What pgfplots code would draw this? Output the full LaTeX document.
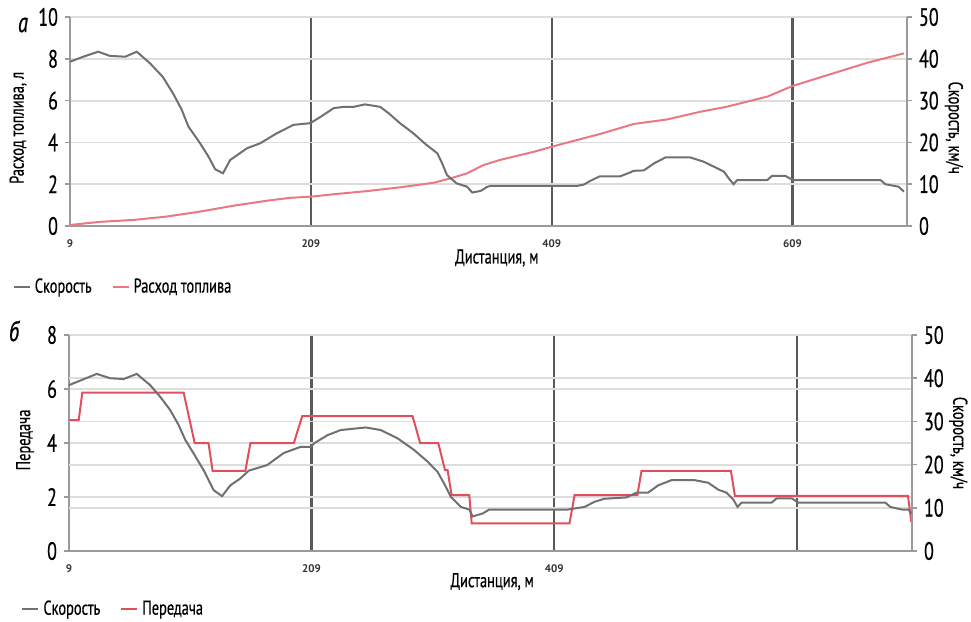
\documentclass[border=0pt]{standalone}
\usepackage{fontspec}
\setmainfont{PT Sans}[FakeStretch=0.72, UprightFeatures={FakeBold=0.5}, ItalicFeatures={FakeBold=0.8}]
\newfontfamily\widefont{PT Sans}
\usepackage{pgfplots}
\pgfplotsset{compat=1.18}
\definecolor{spd}{HTML}{707070}
\definecolor{fuel}{HTML}{EA7880}
\definecolor{gear}{HTML}{E0505C}
\definecolor{vgrid}{HTML}{5A5A5A}
\definecolor{hgrid}{HTML}{DDDDDD}
\definecolor{axl}{HTML}{9A9A9A}

\pgfplotstableread{
d v
9 39.3
20 40.5
32.5 41.7
42 40.7
55 40.5
64.4 41.7
75.5 38.9
86 35.7
94.6 31.7
101.8 27.8
107.3 23.8
117 19.8
124 16.6
129.5 13.6
136 12.6
142 15.8
156 18.6
167 19.8
180.8 22.2
194.6 24.2
208.5 24.6
217 26.1
228 28.2
236 28.5
244.5 28.5
254 29.1
266.6 28.5
273.5 27.0
283 24.6
294 22.2
305 19.4
314 17.4
318 15.0
322 12.2
330 10.2
338.7 9.4
343 8.0
350 8.4
355 9.3
358 9.6
430 9.6
435.6 9.9
441 10.8
449 11.9
466 11.9
474 12.8
477 13.2
485.5 13.3
494 15.0
503.5 16.4
524 16.4
535 15.4
543.6 14.2
552 13.0
556 11.4
560 10.0
563 11.0
588 11.0
592 12.0
603 12.0
609 11.0
682 11.0
686 10.0
697 9.4
701.5 8.2
}\speedA

\pgfplotstableread{
d f
9 0.05
34 0.2
61.6 0.29
89 0.45
117 0.69
144.7 0.97
172.5 1.21
192 1.35
208.5 1.40
228 1.52
255.6 1.67
283 1.85
311 2.07
325 2.28
338.7 2.52
352.5 2.92
366 3.16
394 3.55
409 3.79
421.7 3.99
449 4.4
477 4.88
505 5.1
532.6 5.47
554.7 5.71
588 6.19
609 6.70
643 7.31
671 7.81
701.5 8.26
}\fuelA

\pgfplotstableread{
d v
9 38.4
31.9 41.0
42.9 40.0
53.9 39.8
64.9 41.0
75.9 38.4
84.2 35.7
92.5 32.6
99.3 29.2
104.9 25.7
111.7 22.6
120 18.7
128.2 14.1
135.2 12.7
142 15.2
150.3 16.8
157.2 18.6
172.4 19.9
186.1 22.7
199.9 24.1
208.2 24.1
210.9 24.9
222 26.8
233 28.0
253.6 28.6
266 28.0
279.8 26.1
293.5 23.4
304.6 20.7
312.9 18.3
318.3 15.6
323.9 12.5
332.1 10.2
339 9.6
341.8 8.0
350.1 8.7
355.5 9.6
420.3 9.6
434 10.2
442.3 11.4
450.5 12.1
468.5 12.4
476.8 13.5
486.4 13.5
494.7 15.2
505.7 16.4
524.9 16.4
536 15.8
544.3 14.2
551.1 13.5
556.7 11.9
560.2 10.2
563.5 11.2
588.3 11.2
592.4 12.2
604.8 12.2
610.4 11.2
682 11.2
686.1 10.2
695.8 9.6
701.3 9.6
703.4 8.7
}\speedB

\pgfplotstableread{
d g
9 4.85
17 4.85
20 5.87
103.5 5.87
112.6 4.0
124 4.0
127.4 2.97
154.4 2.97
158.6 4.0
194.4 4.0
201.3 5.0
292.2 5.0
298.5 4.0
313.4 4.0
319 3.0
321.1 3.0
324.4 2.07
339 2.07
341 1.02
421.6 1.02
425.8 2.07
477.6 2.07
481 2.97
554.7 2.97
558 2.04
700.7 2.04
703.4 1.08
}\gearB

\tikzset{lab/.style={font=\fontsize{10}{11}\selectfont}}
\pgfplotsset{
  base/.style={
    scale only axis, xmin=9, xmax=704,
    axis line style={axl, line width=0.9pt, -},
    ytick style={axl, line width=0.8pt},
    xtick style={draw=none},
    major tick length=2.5pt,
    tick align=outside,
    /pgf/number format/assume math mode=true,
    yticklabel style={font=\fontsize{12.5}{13}\selectfont, text=black},
    xticklabel style={font=\fontsize{5.5}{6}\widefont\bfseries, text=black!80, yshift=-1pt},
    clip=false,
  },
  leg/.style={legend columns=-1, legend cell align=left,
    legend style={draw=none, fill=none, font=\fontsize{10}{11}\selectfont,
      /tikz/every even column/.append style={column sep=8pt}},
    legend image code/.code={\draw[##1] (0pt,0pt) -- (8pt,0pt);}},
}

\begin{document}
\begin{tikzpicture}
\useasboundingbox (0,0) rectangle (485.5pt,-311pt);

% ---------- panel a ----------
\begin{axis}[base, at={(35pt,-113pt)}, anchor=south west,
  width=418.5pt, height=104.5pt,
  ymin=0, ymax=10, ytick={0,2,...,10},
  axis x line*=bottom, axis y line*=left,
  xtick={209,409,609}, extra x ticks={9}, extra x tick style={grid=none},
  xmajorgrids, ymajorgrids,
  x grid style={vgrid, line width=1.1pt},
  y grid style={hgrid, line width=0.9pt},
  xlabel={Дистанция, м}, ylabel={Расход топлива, л},
  every axis x label/.style={at={(axis description cs:0.51,-0.153)}, anchor=center, lab},
  every axis y label/.style={at={(axis description cs:-0.062,0.47)}, rotate=90, anchor=center, lab},
]
\addplot[fuel, line width=1pt] table[x=d, y=f] {\fuelA};
\end{axis}
\begin{axis}[base, at={(35pt,-113pt)}, anchor=south west,
  width=418.5pt, height=104.5pt,
  ymin=0, ymax=50, ytick={0,10,...,50},
  axis y line*=right, axis x line=none,
  ylabel={Скорость, км/ч},
  every axis y label/.style={at={(axis description cs:1.056,0.47)}, rotate=-90, anchor=center, lab},
  leg, legend style={at={(axis description cs:-0.076,-0.292)}, anchor=west},
]
\addplot[spd, line width=1pt] table[x=d, y=v] {\speedA};
\addlegendentry{Скорость}
\addlegendimage{fuel, line width=1pt}
\addlegendentry{Расход топлива}
\end{axis}

% ---------- panel b ----------
\begin{axis}[base, at={(34.5pt,-275.5pt)}, anchor=south west,
  width=421.5pt, height=108pt,
  ymin=0, ymax=8, ytick={0,2,...,8},
  extra y ticks={1.6,3.2,4.8,6.4}, extra y tick labels={},
  extra y tick style={major tick length=0pt, ymajorgrids},
  axis x line*=bottom, axis y line*=left,
  xtick={209,409,609}, xticklabels={209,409,{}},
  extra x ticks={9}, extra x tick style={grid=none},
  xmajorgrids, ymajorgrids,
  x grid style={vgrid, line width=1.1pt},
  y grid style={hgrid, line width=0.9pt},
  xlabel={Дистанция, м}, ylabel={Передача},
  every axis x label/.style={at={(axis description cs:0.502,-0.142)}, anchor=center, lab},
  every axis y label/.style={at={(axis description cs:-0.052,0.514)}, rotate=90, anchor=center, lab},
]
\addplot[gear, line width=1pt] table[x=d, y=g] {\gearB};
\end{axis}
\begin{axis}[base, at={(34.5pt,-275.5pt)}, anchor=south west,
  width=421.5pt, height=108pt,
  ymin=0, ymax=50, ytick={0,10,...,50},
  axis y line*=right, axis x line=none,
  ylabel={Скорость, км/ч},
  every axis y label/.style={at={(axis description cs:1.055,0.50)}, rotate=-90, anchor=center, lab},
  leg, legend style={at={(axis description cs:-0.064,-0.269)}, anchor=west},
]
\addplot[spd, line width=1pt] table[x=d, y=v] {\speedB};
\addlegendentry{Скорость}
\addlegendimage{gear, line width=1pt}
\addlegendentry{Передача}
\end{axis}

\node[font=\fontsize{14}{15}\selectfont\itshape] at (11.5pt,-12.5pt) {а};
\node[font=\fontsize{14}{15}\selectfont\itshape] at (7pt,-165.5pt) {б};
\end{tikzpicture}
\end{document}
